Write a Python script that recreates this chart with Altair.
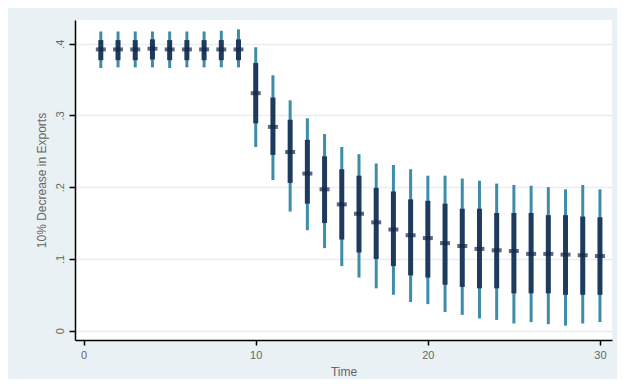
import altair as alt
import pandas as pd

time = list(range(1, 31))
median = [0.392, 0.392, 0.392, 0.393, 0.392, 0.392, 0.392, 0.392, 0.392,
          0.331, 0.284, 0.249, 0.219, 0.197, 0.176, 0.163, 0.151, 0.141, 0.133, 0.129,
          0.122, 0.118, 0.114, 0.112, 0.111, 0.107, 0.107, 0.106, 0.105, 0.104]
inner_low = [0.377, 0.377, 0.377, 0.378, 0.377, 0.377, 0.377, 0.377, 0.377,
             0.289, 0.245, 0.206, 0.177, 0.150, 0.127, 0.109, 0.100, 0.090, 0.077, 0.074,
             0.064, 0.061, 0.059, 0.059, 0.052, 0.052, 0.052, 0.050, 0.050, 0.050]
inner_high = [0.405, 0.405, 0.405, 0.406, 0.405, 0.405, 0.405, 0.405, 0.406,
              0.373, 0.325, 0.294, 0.266, 0.243, 0.225, 0.216, 0.199, 0.194, 0.183, 0.181,
              0.177, 0.170, 0.170, 0.164, 0.164, 0.164, 0.161, 0.161, 0.159, 0.158]
outer_low = [0.366, 0.367, 0.367, 0.367, 0.366, 0.367, 0.367, 0.367, 0.367,
             0.256, 0.210, 0.166, 0.140, 0.115, 0.090, 0.074, 0.059, 0.050, 0.040, 0.037,
             0.026, 0.022, 0.017, 0.015, 0.010, 0.012, 0.009, 0.007, 0.010, 0.012]
outer_high = [0.417, 0.417, 0.417, 0.417, 0.417, 0.417, 0.417, 0.418, 0.420,
              0.395, 0.356, 0.321, 0.296, 0.274, 0.256, 0.246, 0.233, 0.231, 0.225, 0.216,
              0.216, 0.212, 0.209, 0.205, 0.203, 0.202, 0.200, 0.197, 0.203, 0.197]

df = pd.DataFrame({
    "Time": time, "median": median,
    "ilo": inner_low, "ihi": inner_high,
    "olo": outer_low, "ohi": outer_high,
})

x_scale = alt.Scale(domain=[-0.5, 30.7], nice=False, zero=False)
y_scale = alt.Scale(domain=[-0.013, 0.433], nice=False, zero=False)

x_axis = alt.Axis(
    values=[0, 10, 20, 30], title="Time", grid=False,
    domainColor="black", domainWidth=1.5, tickColor="black", tickWidth=1.5, tickSize=5,
    labelColor="#666666", labelFontSize=11, labelFont="Liberation Sans",
    titleColor="#666666", titleFontSize=12, titleFont="Liberation Sans",
    titleFontWeight="normal", titlePadding=6, labelPadding=4,
)
y_axis = alt.Axis(
    values=[0, 0.1, 0.2, 0.3, 0.4], title="10% Decrease in Exports",
    labelExpr="datum.value == 0 ? '0' : replace(format(datum.value, '.1f'), '0.', '.')",
    labelAngle=270, labelAlign="center", labelBaseline="bottom",
    grid=True, gridColor="#E8EFF1", gridWidth=1.5,
    domainColor="black", domainWidth=1.5, tickColor="black", tickWidth=1.5, tickSize=6,
    labelColor="#666666", labelFontSize=11, labelFont="Liberation Sans", labelPadding=4,
    titleColor="#666666", titleFontSize=12, titleFont="Liberation Sans",
    titleFontWeight="normal", titlePadding=6,
)

base = alt.Chart(df)

outer = base.mark_rule(color="#3D8CA8", strokeWidth=3).encode(
    x=alt.X("Time:Q", scale=x_scale, axis=x_axis),
    y=alt.Y("olo:Q", scale=y_scale, axis=y_axis),
    y2="ohi:Q",
)
inner = base.mark_rule(color="#1E3A5C", strokeWidth=5).encode(
    x=alt.X("Time:Q", scale=x_scale),
    y=alt.Y("ilo:Q", scale=y_scale),
    y2="ihi:Q",
)
mid = base.mark_tick(color="#14284A", thickness=4, size=10, orient="horizontal").encode(
    x=alt.X("Time:Q", scale=x_scale),
    y=alt.Y("median:Q", scale=y_scale),
)

chart = alt.layer(outer, inner, mid).properties(
    width=537, height=320,
    background="#EAF1F4",
    padding={"left": 67, "top": 12, "right": 5, "bottom": 39},
    autosize=alt.AutoSizeParams(type="none"),
).configure_view(fill="white", stroke=None)

chart.save("out.html", embed_options={"renderer": "svg", "actions": False})
